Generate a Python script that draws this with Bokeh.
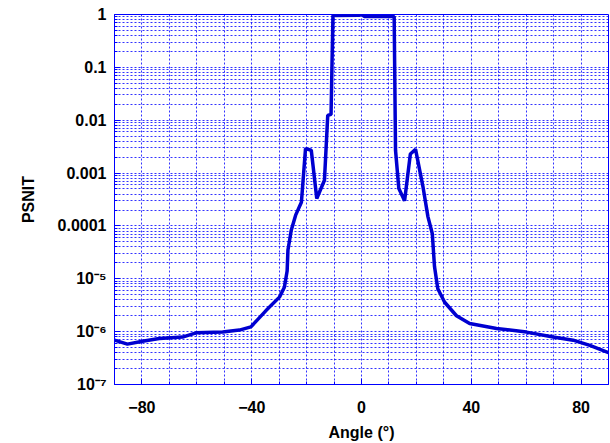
from bokeh.plotting import figure
from bokeh.models import FixedTicker, Range1d
from bokeh.embed import file_html
from bokeh.resources import INLINE

# ---- data ----
angle = [-90, -85.3, -79.8, -73.7, -65.2, -60.3, -50.6, -44.5, -40.3, -34.8,
         -29.9, -28.1, -27.1, -26.8, -25.6, -24.0, -21.9, -20.4, -18.3, -16.3,
         -13.5, -12.3, -11.1, -10.4, -1.0, 0.0, 1.0, 11.9, 12.4, 13.6,
         15.7, 17.8, 19.7, 22.4, 24.2, 25.8, 26.6, 27.8, 30.3, 34.6,
         39.4, 49.2, 60.1, 69.8, 77.1, 83.2, 90]
psnit = [6.9e-7, 5.8e-7, 6.6e-7, 7.4e-7, 7.9e-7, 9.5e-7, 9.8e-7, 1.07e-6, 1.23e-6, 2.5e-6,
         4.5e-6, 6.9e-6, 1.4e-5, 3.5e-5, 8.3e-5, 1.6e-4, 2.8e-4, 2.9e-3, 2.7e-3, 3.3e-4,
         7.3e-4, 0.0123, 0.0129, 0.96, 0.97, 1.0, 0.92, 0.92, 2.7e-3, 5.1e-4,
         3.0e-4, 2.3e-3, 2.8e-3, 5.5e-4, 1.5e-4, 7.1e-5, 1.7e-5, 6.5e-6, 3.6e-6, 2.0e-6,
         1.42e-6, 1.15e-6, 9.8e-7, 7.9e-7, 6.9e-7, 5.5e-7, 4.0e-7]

x_ticks = [-80, -40, 0, 40, 80]
x_minor = [-90, -70, -60, -50, -30, -20, -10, 10, 20, 30, 50, 60, 70, 90]

y_ticks = [1e-7, 1e-6, 1e-5, 1e-4, 1e-3, 1e-2, 1e-1, 1.0]
y_labels = ["10\u207b\u2077", "10\u207b\u2076", "10\u207b\u2075", "0.0001", "0.001", "0.01", "0.1", "1"]
y_minor = [m * d for d in y_ticks[:-1] for m in range(2, 10)]

BLUE = "#0000ff"
LINE = "#0000d0"
FONT = "Liberation Sans"

p = figure(width=610, height=443, frame_width=494, frame_height=370,
           min_border_left=114, min_border_top=14, min_border_right=2, min_border_bottom=59,
           y_axis_type="log", x_range=Range1d(-90, 90), y_range=Range1d(1e-7, 1),
           output_backend="svg", toolbar_location=None, background_fill_color="white",
           border_fill_color="white")

p.line(angle, psnit, line_color=LINE, line_width=3.5)

xt = FixedTicker(ticks=x_ticks, minor_ticks=x_minor)
yt = FixedTicker(ticks=y_ticks, minor_ticks=y_minor)

p.xaxis.ticker = xt
p.yaxis.ticker = yt
p.yaxis.major_label_overrides = {t: l for t, l in zip(y_ticks, y_labels)}

for ax in (p.xaxis[0], p.yaxis[0]):
    ax.axis_line_color = BLUE
    ax.major_tick_line_color = BLUE
    ax.minor_tick_line_color = BLUE
    ax.major_tick_in = 6
    ax.major_tick_out = 0
    ax.minor_tick_in = 3
    ax.minor_tick_out = 0
    ax.major_label_text_font = FONT
    ax.major_label_text_font_style = "bold"
    ax.major_label_text_font_size = "16px"
    ax.major_label_text_color = "black"
    ax.axis_label_text_font = FONT
    ax.axis_label_text_font_style = "bold"
    ax.axis_label_text_font_size = "16px"
    ax.axis_label_text_color = "black"

p.xaxis.axis_label = "Angle (\u00b0)"
p.xaxis.major_label_standoff = 16
p.xaxis.axis_label_standoff = 8
p.yaxis.axis_label = "PSNIT"
p.yaxis.major_label_standoff = 8
p.yaxis.axis_label_standoff = 18

for g in (p.xgrid[0], p.ygrid[0]):
    g.grid_line_color = BLUE
    g.grid_line_alpha = 0.8
    g.grid_line_dash = "2 2"
    g.grid_line_width = 1
    g.minor_grid_line_color = BLUE
    g.minor_grid_line_alpha = 0.8
    g.minor_grid_line_dash = "2 2"
    g.minor_grid_line_width = 1

p.outline_line_color = BLUE
p.outline_line_width = 1

open("out.html", "w").write(file_html(p, INLINE))
